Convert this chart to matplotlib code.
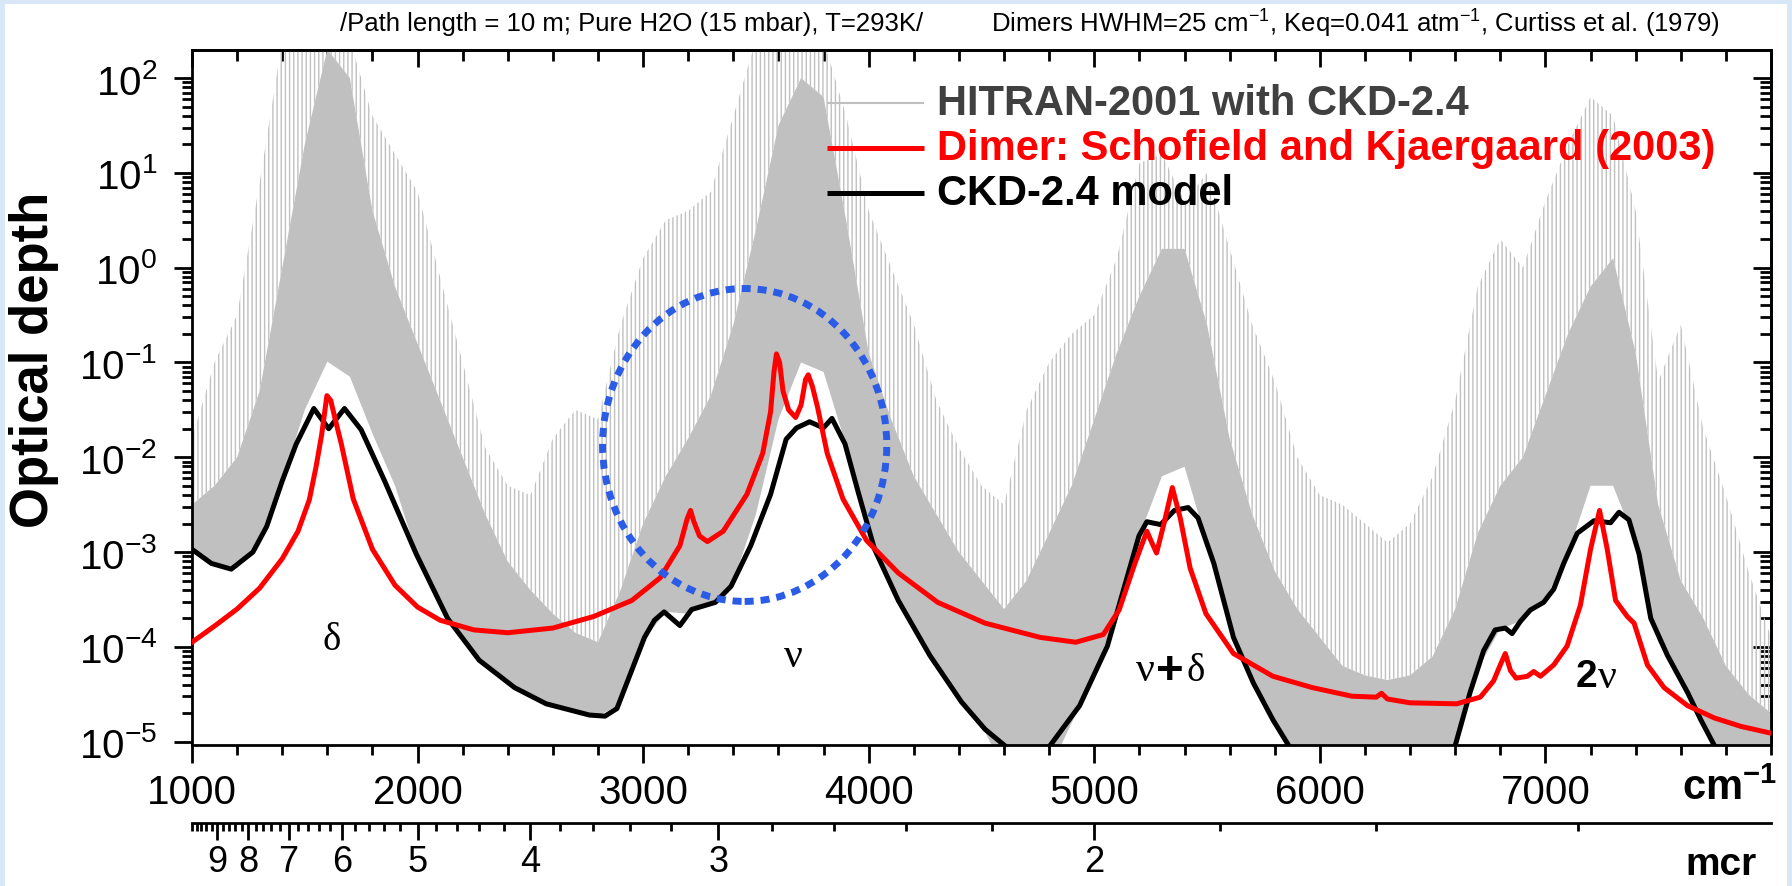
import numpy as np
import matplotlib
matplotlib.use("Agg")
import matplotlib.pyplot as plt
from matplotlib.patches import Ellipse, Rectangle
from matplotlib.ticker import FixedLocator, LogLocator, NullFormatter

plt.rcParams['font.family'] = ['Liberation Sans', 'DejaVu Sans']
plt.rcParams['mathtext.fontset'] = 'custom'
plt.rcParams['mathtext.rm'] = 'Liberation Sans'
plt.rcParams['mathtext.bf'] = 'Liberation Sans:bold'
plt.rcParams['mathtext.default'] = 'regular'
plt.rcParams['axes.unicode_minus'] = False
plt.rcParams['hatch.linewidth'] = 1.0

# --- CKD-2.4 continuum (black) ---
ckd_x = [1000, 1086, 1174, 1270, 1331, 1400, 1462, 1540, 1606, 1676, 1750, 1854,
         1994, 2133, 2273, 2430, 2570, 2762, 2831, 2884, 2936, 3006, 3050, 3093,
         3163, 3215, 3320, 3390, 3477, 3565, 3634, 3680, 3738, 3799, 3837, 3895,
         3956, 4026, 4131, 4271, 4411, 4516, 4603, 4700, 4804, 4935, 5058, 5145,
         5198, 5233, 5294, 5355, 5416, 5460, 5530, 5617, 5705, 5792, 5862, 6230,
         6600, 6666, 6726, 6777, 6822, 6852, 6889, 6933, 6992, 7037, 7081, 7141,
         7215, 7289, 7326, 7370, 7415, 7467, 7541, 7630, 7689, 7749]
ckd_tau = [1.07e-3, 7.59e-4, 6.61e-4, 1.0e-3, 1.86e-3, 5.62e-3, 1.38e-2, 3.27e-2,
           2.0e-2, 3.27e-2, 1.95e-2, 5.62e-3, 9.55e-4, 2.0e-4, 7.24e-5, 3.72e-5,
           2.51e-5, 1.91e-5, 1.86e-5, 2.24e-5, 4.68e-5, 1.26e-4, 1.91e-4, 2.34e-4,
           1.68e-4, 2.48e-4, 2.95e-4, 4.37e-4, 1.17e-3, 4.07e-3, 1.55e-2, 2.04e-2,
           2.37e-2, 2.04e-2, 2.57e-2, 1.38e-2, 4.07e-3, 1.07e-3, 3.09e-4, 8.13e-5,
           2.63e-5, 1.35e-5, 9.1e-6, np.nan, 9.1e-6, 2.40e-5, 1.02e-4, 5.37e-4,
           1.48e-3, 2.09e-3, 1.95e-3, 2.75e-3, 2.95e-3, 2.29e-3, 7.59e-4, 1.26e-4,
           4.17e-5, 1.70e-5, 9.1e-6, np.nan, 9.1e-6, 3.31e-5, 9.12e-5, 1.51e-4,
           1.58e-4, 1.38e-4, 1.86e-4, 2.45e-4, 2.95e-4, 4.07e-4, 7.59e-4, 1.58e-3,
           2.14e-3, 2.04e-3, 2.63e-3, 2.19e-3, 9.55e-4, 2.0e-4, 8.13e-5, 3.31e-5,
           1.70e-5, 9.1e-6]

# --- Dimer, Schofield and Kjaergaard (red) ---
dimer_x = [1000, 1100, 1200, 1300, 1400, 1470, 1520, 1550, 1575, 1598, 1615, 1635,
           1662, 1715, 1800, 1900, 2000, 2100, 2250, 2400, 2600, 2780, 2950, 3076,
           3163, 3195, 3210, 3225, 3250, 3285, 3355, 3460, 3530, 3565, 3580, 3591,
           3605, 3620, 3645, 3676, 3700, 3720, 3732, 3750, 3773, 3816, 3886, 3991,
           4131, 4306, 4516, 4760, 4918, 5040, 5110, 5180, 5233, 5255, 5276, 5311,
           5346, 5381, 5425, 5495, 5617, 5792, 5967, 6142, 6250, 6273, 6300, 6400,
           6607, 6711, 6770, 6800, 6822, 6845, 6870, 6920, 6948, 6978, 7037, 7096,
           7155, 7200, 7240, 7274, 7311, 7363, 7393, 7452, 7526, 7630, 7749, 7867,
           8000]
dimer_tau = [1.12e-4, 1.66e-4, 2.51e-4, 4.17e-4, 8.51e-4, 1.66e-3, 3.55e-3, 7.94e-3,
             1.74e-2, 4.47e-2, 3.98e-2, 2.51e-2, 1.38e-2, 3.63e-3, 1.07e-3, 4.47e-4,
             2.63e-4, 1.91e-4, 1.51e-4, 1.41e-4, 1.58e-4, 2.09e-4, 3.09e-4, 5.37e-4,
             1.17e-3, 2.24e-3, 2.75e-3, 2.09e-3, 1.48e-3, 1.29e-3, 1.66e-3, 4.07e-3,
             1.10e-2, 3.02e-2, 7.94e-2, 0.123, 0.100, 5.01e-2, 3.16e-2, 2.63e-2,
             3.55e-2, 6.61e-2, 7.41e-2, 5.62e-2, 3.39e-2, 1.10e-2, 3.63e-3, 1.32e-3,
             6.03e-4, 2.95e-4, 1.78e-4, 1.26e-4, 1.12e-4, 1.35e-4, 2.45e-4, 7.59e-4,
             1.66e-3, 1.26e-3, 9.77e-4, 2.09e-3, 4.79e-3, 2.29e-3, 6.76e-4, 2.24e-4,
             8.51e-5, 4.90e-5, 3.72e-5, 3.02e-5, 2.95e-5, 3.24e-5, 2.82e-5, 2.57e-5,
             2.51e-5, 2.95e-5, 4.37e-5, 6.46e-5, 8.51e-5, 5.62e-5, 4.68e-5, 4.90e-5,
             5.50e-5, 4.90e-5, 6.46e-5, 1.02e-4, 2.75e-4, 1.07e-3, 2.75e-3, 1.07e-3,
             3.09e-4, 2.09e-4, 1.78e-4, 6.46e-5, 3.72e-5, 2.40e-5, 1.78e-5, 1.45e-5,
             1.23e-5]

# --- HITRAN-2001 line spectrum (grey), read as floor / dense top / tallest lines ---
hitran_x = list(range(1000, 8001, 100))
hitran_floor = [1.07e-3, 7.41e-4, 6.76e-4, 1.35e-3, 5.62e-3, 3.16e-2, 0.102, 7.08e-2,
                1.78e-2, 5.01e-3, 8.91e-4, 2.82e-4, 1.12e-4, 6.31e-5, 4.17e-5, 3.02e-5,
                2.40e-5, 2.04e-5, 1.86e-5, 2.51e-5, 1.17e-4, 2.34e-4, 2.24e-4, 2.88e-4,
                4.90e-4, 2.51e-3, 2.51e-2, 0.100, 7.94e-2, 1.32e-2, 1.74e-3, 4.37e-4,
                1.58e-4, 6.46e-5, 2.88e-5, 1.51e-5, 5e-6, 5e-6, 5e-6, 1.58e-5,
                5.25e-5, 2.29e-4, 1.48e-3, 6.31e-3, 7.94e-3, 1.23e-3, 1.78e-4, 4.47e-5,
                1.58e-5, 5e-6, 5e-6, 5e-6, 5e-6, 5e-6, 5e-6, 5e-6,
                7.94e-6, 5.89e-5, 1.55e-4, 1.91e-4, 3.16e-4, 9.55e-4, 5.01e-3, 5.01e-3,
                1.26e-3, 1.12e-4, 4.47e-5, 1.51e-5, 5e-6, 5e-6, 5e-6]
hitran_dense = [3.16e-3, 5.01e-3, 1.0e-2, 5.01e-2, 1.0, 20, 200, 100,
                3.98, 0.631, 0.158, 3.98e-2, 1.0e-2, 2.51e-3, 7.94e-4, 3.98e-4,
                2.24e-4, 1.41e-4, 1.12e-4, 3.98e-4, 2.0e-3, 6.31e-3, 1.58e-2, 4.47e-2,
                0.251, 2.51, 31.6, 100, 63.1, 3.16, 0.126, 2.51e-2,
                6.31e-3, 2.51e-3, 1.0e-3, 5.01e-4, 2.51e-4, 5.01e-4, 1.58e-3, 5.01e-3,
                2.51e-2, 0.126, 0.501, 1.58, 1.58, 0.251, 1.58e-2, 2.51e-3,
                6.31e-4, 2.51e-4, 1.26e-4, 6.31e-5, 5.01e-5, 4.47e-5, 5.01e-5, 7.94e-5,
                2.51e-4, 1.58e-3, 5.01e-3, 1.0e-2, 4.47e-2, 0.200, 0.631, 1.26,
                0.126, 3.16e-3, 5.01e-4, 2.0e-4, 6.31e-5, 3.16e-5, 2.0e-5]
hitran_peak = [1.58e-2, 0.100, 0.316, 7.94, 251, 251, 251, 251,
               39.8, 15.8, 6.31, 0.794, 0.100, 1.26e-2, 5.01e-3, 3.98e-3,
               1.58e-2, 3.16e-2, 2.51e-2, 0.251, 1.26, 3.16, 3.98, 6.31,
               39.8, 251, 251, 251, 251, 39.8, 3.98, 1.0,
               0.251, 3.98e-2, 1.26e-2, 5.01e-3, 3.16e-3, 3.16e-2, 0.100, 0.200,
               0.316, 1.26, 12.6, 15.8, 5.01, 10.0, 1.58, 0.251,
               6.31e-2, 1.0e-2, 3.98e-3, 3.16e-3, 2.0e-3, 1.26e-3, 2.0e-3, 6.31e-3,
               3.98e-2, 0.631, 2.0, 1.0, 5.01, 20, 63.1, 39.8,
               3.98, 6.31e-2, 0.251, 2.0e-2, 3.98e-3, 6.31e-4, 1.26e-4]

# --- axes labels / ticks ---
xtick_vals = [1000, 2000, 3000, 4000, 5000, 6000, 7000]
xtick_labels = ['1000', '2000', '3000', '4000', '5000', '6000', '7000']
micron_major = [9, 8, 7, 6, 5, 4, 3, 2]
micron_labels = ['9', '8', '7', '6', '5', '4', '3', '2']
micron_minor = np.round(np.arange(1.4, 10.01, 0.2), 1)

legend_rows = [
    ('HITRAN-2001 with CKD-2.4', '#c0c0c0', 1.5, '#404040'),
    ('Dimer: Schofield and Kjaergaard (2003)', 'red', 3.6, 'red'),
    ('CKD-2.4 model', 'black', 3.6, 'black'),
]

W, H = 1792, 887
fig = plt.figure(figsize=(W / 100, H / 100), dpi=100)
fig.patch.set_facecolor('#d9e8f6')
fig.add_artist(Rectangle((5 / W, 0), 1782 / W, 1 - 5 / H, transform=fig.transFigure,
                         facecolor='white', edgecolor='none', zorder=-1))

ax = fig.add_axes([192 / W, 1 - 746 / H, 1579 / W, 695.3 / H])
ax.set_yscale('log')
ax.set_xlim(1000, 8000)
ax.set_ylim(9.23e-6, 199)

# grey line forest: sparse tall lines (hatched) and dense core (solid)
ax.fill_between(hitran_x, hitran_dense, hitran_peak, facecolor='none',
                edgecolor='#c0c0c0', hatch='||||', linewidth=0, zorder=1)
ax.fill_between(hitran_x, hitran_floor, hitran_dense, facecolor='#c0c0c0',
                edgecolor='none', linewidth=0, zorder=2)

ax.plot(ckd_x, ckd_tau, color='black', lw=3.6, zorder=3)
ax.plot(dimer_x, dimer_tau, color='red', lw=3.6, zorder=4)

ax.add_patch(Ellipse((0.350, 0.4315), 0.180, 0.450, transform=ax.transAxes,
                     fill=False, edgecolor='#2b5ce6', lw=5,
                     linestyle=(0, (1.3, 1.0)), zorder=6))

# band labels
serif = ['Liberation Serif', 'DejaVu Serif']
ax.text(1619, 1.21e-4, 'δ', family=serif, fontsize=28, ha='center', va='center')
ax.text(3664, 8.07e-5, 'ν', family=serif, fontsize=30, ha='center', va='center')
ax.annotate('ν', (5337, 5.6e-5), xytext=(-18, 1), textcoords='offset points',
            family=serif, fontsize=30, ha='center', va='center')
ax.annotate('+', (5337, 5.6e-5), xytext=(0, 0), textcoords='offset points',
            fontsize=34, fontweight='bold', ha='center', va='center')
ax.annotate('δ', (5337, 5.6e-5), xytext=(18, 0), textcoords='offset points',
            family=serif, fontsize=28, ha='center', va='center')
ax.annotate('2', (7227, 4.97e-5), xytext=(-7, 0), textcoords='offset points',
            fontsize=28, fontweight='bold', ha='center', va='center')
ax.annotate('ν', (7227, 4.97e-5), xytext=(8, -1), textcoords='offset points',
            family=serif, fontsize=30, ha='center', va='center')

# legend drawn by hand
legend_y = [0.9233, 0.8586, 0.7939]
for (label, lc, lw, tc), y in zip(legend_rows, legend_y):
    ax.plot([0.402, 0.4636], [y, y], transform=ax.transAxes, color=lc, lw=lw,
            solid_capstyle='butt', zorder=7)
    ax.text(0.4718, y, label, transform=ax.transAxes, color=tc, fontsize=30,
            fontweight='bold', ha='left', va='center', zorder=7)

# ticks
ax.set_xticks(xtick_vals, labels=xtick_labels)
ax.xaxis.set_minor_locator(FixedLocator(np.arange(1000, 8001, 200)))
ax.yaxis.set_major_locator(LogLocator(base=10, numticks=20))
ax.yaxis.set_minor_locator(LogLocator(base=10, subs=np.arange(2, 10), numticks=20))
ax.yaxis.set_minor_formatter(NullFormatter())
ax.tick_params(which='both', direction='out', width=2, top=False, right=False,
               labelsize=29)
ax.tick_params(axis='x', which='major', length=13, pad=7)
ax.tick_params(axis='y', which='major', length=13, pad=12)
ax.tick_params(which='minor', length=7)
for sp in ax.spines.values():
    sp.set_linewidth(2)

top = ax.secondary_xaxis('top')
top.set_xticks(xtick_vals)
top.xaxis.set_minor_locator(FixedLocator(np.arange(1000, 8001, 200)))
top.tick_params(which='both', direction='in', width=2, labeltop=False)
top.tick_params(which='major', length=12)
top.tick_params(which='minor', length=8)
top.spines['top'].set_linewidth(2)

right = ax.secondary_yaxis('right')
right.yaxis.set_major_locator(LogLocator(base=10, numticks=20))
right.yaxis.set_minor_locator(LogLocator(base=10, subs=np.arange(2, 10), numticks=20))
right.tick_params(which='both', direction='in', width=2, labelright=False)
right.tick_params(which='major', length=13)
right.tick_params(which='minor', length=8)
right.spines['right'].set_linewidth(2)

# wavelength axis (microns)
mic = ax.secondary_xaxis(-0.1122, functions=(lambda w: 1e4 / w, lambda w: 1e4 / w))
mic.set_xticks(micron_major, labels=micron_labels)
mic.xaxis.set_minor_locator(FixedLocator(micron_minor))
mic.tick_params(which='both', direction='out', width=2, labelsize=26)
mic.tick_params(which='major', length=12, pad=3)
mic.tick_params(which='minor', length=6)
mic.spines['bottom'].set_linewidth(2)

# axis titles and header
fig.text(1682 / W, 1 - 800 / H, 'cm$^{-1}$', fontsize=30, fontweight='bold',
         ha='left', va='baseline')
fig.text(1721 / W, 1 - 875 / H, 'mcr', fontsize=28, fontweight='bold',
         ha='center', va='baseline')
fig.text(34 / W, 1 - 360 / H, 'Optical depth', rotation=90, fontsize=38,
         fontweight='bold', ha='center', va='center')
fig.text(923 / W, 1 - 24 / H, '/Path length = 10 m; Pure H2O (15 mbar), T=293K/',
         fontsize=18.5, ha='right', va='center')
fig.text(991 / W, 1 - 24 / H,
         'Dimers HWHM=25 cm$^{-1}$, Keq=0.041 atm$^{-1}$, Curtiss et al. (1979)',
         fontsize=18.5, ha='left', va='center')

fig.savefig('out.png', dpi=100, facecolor=fig.get_facecolor())
